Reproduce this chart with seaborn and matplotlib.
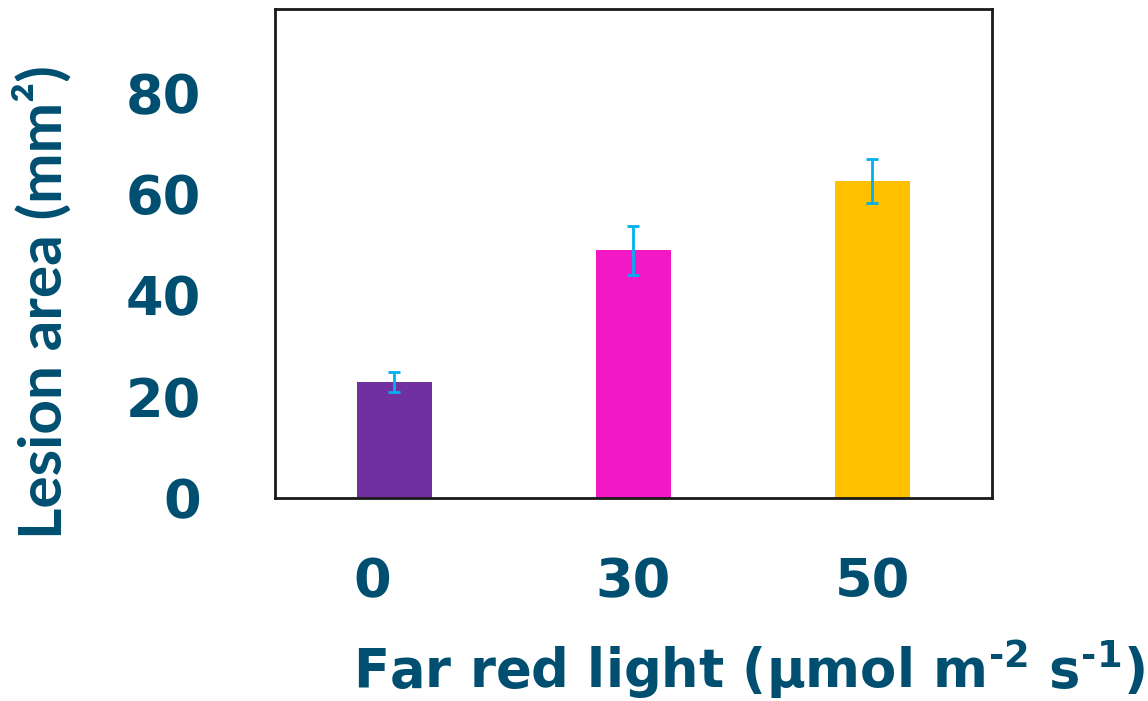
import matplotlib
matplotlib.use("Agg")
import matplotlib.pyplot as plt
import matplotlib.transforms as mtransforms
import seaborn as sns
import pandas as pd

# Lesion area under increasing far-red light
light_levels = ["0", "30", "50"]
lesion_area = [22.9, 48.9, 62.5]
lesion_err = [2.0, 4.8, 4.3]
bar_colors = ["#7030A0", "#F218C6", "#FFC000"]

TEXT = "#004F71"

sns.set_style("white")
plt.rcParams["font.family"] = ["DejaVu Sans"]
plt.rcParams["mathtext.fontset"] = "custom"
plt.rcParams["mathtext.rm"] = "DejaVu Sans:bold"
plt.rcParams["mathtext.default"] = "rm"

df = pd.DataFrame({"light": light_levels, "area": lesion_area})

fig = plt.figure(figsize=(11.48, 7.01), dpi=100)
ax = fig.add_axes([0.2395, 0.2896, 0.6246, 0.6976])

sns.barplot(data=df, x="light", y="area", hue="light", palette=bar_colors,
            order=light_levels, hue_order=light_levels, width=0.314,
            errorbar=None, legend=False, ax=ax, saturation=1, linewidth=0)
ax.errorbar(range(len(light_levels)), lesion_area, yerr=lesion_err, fmt="none",
            ecolor="#00B0F0", elinewidth=2.0, capsize=4.3, capthick=2.0)

ax.set_xlim(-0.5, 2.5)
ax.set_ylim(0, 96.5)
ax.set_yticks([0, 20, 40, 60, 80])
ax.tick_params(axis="both", length=0, labelsize=39, labelcolor=TEXT)
ax.tick_params(axis="x", pad=42)
ax.tick_params(axis="y", pad=53)
for lab in ax.get_xticklabels() + ax.get_yticklabels():
    lab.set_fontweight("bold")

# the first category label sits a little left of its bar
first = ax.get_xticklabels()[0]
first.set_transform(first.get_transform() +
                    mtransforms.ScaledTranslation(-0.22, 0, fig.dpi_scale_trans))

for sp in ax.spines.values():
    sp.set_visible(True)
    sp.set_color("#1a1a1a")
    sp.set_linewidth(2.0)

ax.set_ylabel("Lesion area (mm²)", fontsize=43.5, fontweight="bold", color=TEXT,
              family=["Lato", "DejaVu Sans"])
ax.yaxis.label.set_verticalalignment("baseline")
ax.yaxis.set_label_coords(-0.297, 0.40)

ax.set_xlabel(r"Far red light (µmol m$^{\text{-}2}$ s$^{\text{-}1}$)", fontsize=38,
              fontweight="bold", color=TEXT, family="DejaVu Sans")
ax.xaxis.label.set_verticalalignment("baseline")
ax.xaxis.set_label_coords(0.661, -0.3885)

fig.savefig("out.png", dpi=100, facecolor="white")
